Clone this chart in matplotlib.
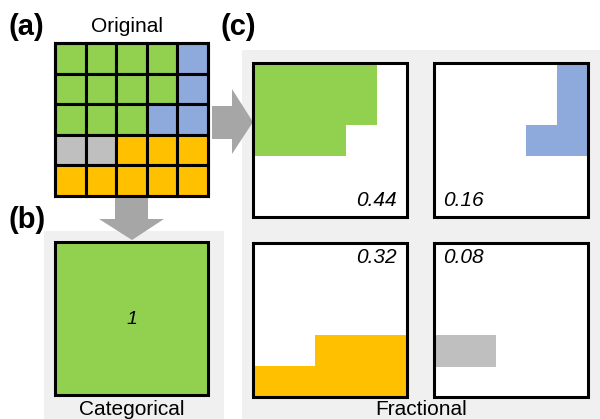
import matplotlib
matplotlib.use("Agg")
import matplotlib.pyplot as plt
from matplotlib.patches import Rectangle, Polygon

plt.rcParams["font.family"] = ["Liberation Sans", "DejaVu Sans"]

# label map of the original 5x5 raster
GRID = [
    ["veg", "veg", "veg", "veg", "water"],
    ["veg", "veg", "veg", "veg", "water"],
    ["veg", "veg", "veg", "water", "water"],
    ["bare", "bare", "crop", "crop", "crop"],
    ["crop", "crop", "crop", "crop", "crop"],
]
CLASSES = ["veg", "water", "crop", "bare"]
COLORS = {"veg": "#92D050", "water": "#8EA9DB", "crop": "#FFC000", "bare": "#BFBFBF"}
FRACTIONS = [0.44, 0.16, 0.32, 0.08]
MAJORITY = "veg"
MAJORITY_VALUE = 1

PANEL_BG = "#F0F0F0"
ARROW = "#A6A6A6"
N = len(GRID)

fig = plt.figure(figsize=(6.0, 4.19), dpi=100)
ax = fig.add_axes([0, 0, 1, 1])
ax.set_xlim(0, 600)
ax.set_ylim(419, 0)
ax.axis("off")


def box_outline(x0, y0, size):
    ax.add_patch(Rectangle((x0, y0), size, size, fill=False, ec="black",
                           lw=2.2, zorder=5))


# panel backgrounds
ax.add_patch(Rectangle((44, 231), 180, 190, fc=PANEL_BG, ec="none", zorder=0))
ax.add_patch(Rectangle((242, 50), 360, 371, fc=PANEL_BG, ec="none", zorder=0))

# (a) original raster with cell borders
gx, gy, gs = 55, 43, 153
cell = gs / N
for r, row in enumerate(GRID):
    for c, lab in enumerate(row):
        ax.add_patch(Rectangle((gx + c * cell, gy + r * cell), cell, cell,
                               fc=COLORS[lab], ec="black", lw=2.2, zorder=2))
box_outline(gx, gy, gs)

# (b) categorical: whole pixel takes the majority class
bx, by, bs = 55, 242, 153
ax.add_patch(Rectangle((bx, by), bs, bs, fc=COLORS[MAJORITY], ec="none", zorder=2))
box_outline(bx, by, bs)
ax.text(bx + bs / 2, by + bs / 2 + 1, f"{MAJORITY_VALUE}", style="italic",
        fontsize=14, ha="center", va="center", zorder=6)

# (c) fractional: one box per class, only that class's cells filled
origins = [(253, 63), (434, 63), (253, 243), (434, 243)]
label_pos = [("right", "bottom"), ("left", "bottom"), ("right", "top"), ("left", "top")]
cs = 154
ccell = cs / N
for k, (cls, frac) in enumerate(zip(CLASSES, FRACTIONS)):
    x0, y0 = origins[k]
    ax.add_patch(Rectangle((x0, y0), cs, cs, fc="white", ec="none", zorder=1))
    for r, row in enumerate(GRID):
        for c, lab in enumerate(row):
            if lab == cls:
                ax.add_patch(Rectangle((x0 + c * ccell, y0 + r * ccell),
                                       ccell + 0.3, ccell + 0.3,
                                       fc=COLORS[cls], ec="none", zorder=2))
    box_outline(x0, y0, cs)
    ha, va = label_pos[k]
    tx = x0 + cs - 10 if ha == "right" else x0 + 9
    ty = y0 + cs - 7 if va == "bottom" else y0 + 5
    ax.text(tx, ty, f"{frac:.2f}", style="italic", fontsize=15,
            ha=ha, va=va, zorder=6)

# arrows
ax.add_patch(Polygon([(212, 106), (232, 106), (232, 89), (253, 122),
                      (232, 154), (232, 139), (212, 139)],
                     closed=True, fc=ARROW, ec="none", zorder=3))
ax.add_patch(Polygon([(115, 198), (148, 198), (148, 219), (164, 219),
                      (132, 240), (99, 219), (115, 219)],
                     closed=True, fc=ARROW, ec="none", zorder=3))

# titles and panel letters
ax.text(127, 27, "Original", fontsize=15, ha="center", va="center")
ax.text(132, 409, "Categorical", fontsize=15, ha="center", va="center")
ax.text(421, 409, "Fractional", fontsize=15, ha="center", va="center")
ax.text(9, 27, "(a)", fontsize=21, fontweight="bold", ha="left", va="center")
ax.text(9, 220, "(b)", fontsize=21, fontweight="bold", ha="left", va="center")
ax.text(221, 27, "(c)", fontsize=21, fontweight="bold", ha="left", va="center")

fig.savefig("out.png", dpi=100)
